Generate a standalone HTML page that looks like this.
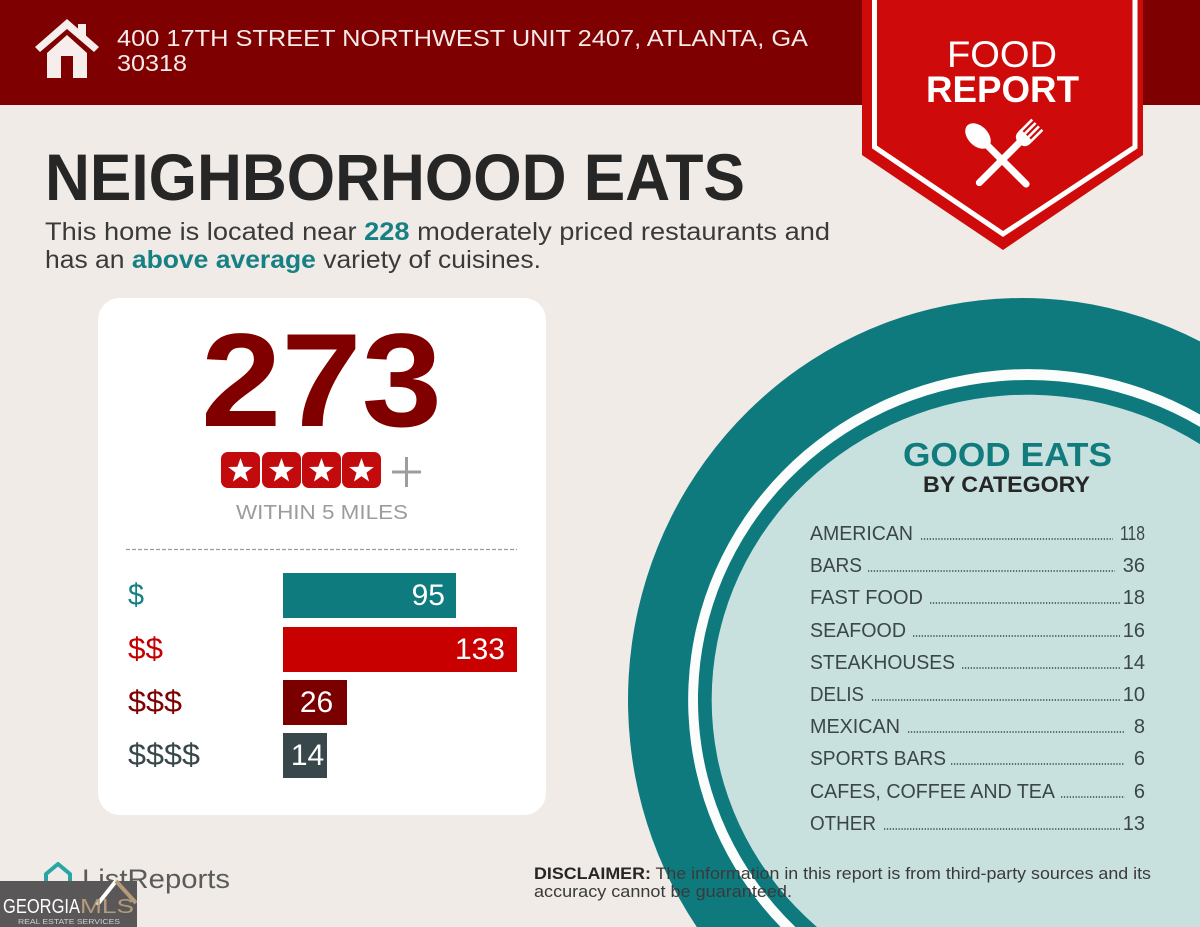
<!DOCTYPE html>
<html>
<head>
<meta charset="utf-8">
<style>
  html,body{margin:0;padding:0;background:#f0ebe6;width:1200px;height:927px;overflow:hidden;}
  svg{display:block;}
  text{font-family:"Liberation Sans", Arial, sans-serif;}
</style>
</head>
<body>
<svg width="1200" height="927" viewBox="0 0 1200 927" xmlns="http://www.w3.org/2000/svg">
  <defs>
    <polygon id="star" points="0,-13 3.1,-4.3 12.4,-4 5,1.6 7.6,10.5 0,5.3 -7.6,10.5 -5,1.6 -12.4,-4 -3.1,-4.3" fill="#ffffff"/>
  </defs>

  <!-- background -->
  <rect x="0" y="0" width="1200" height="927" fill="#f0ebe6"/>

  <!-- header -->
  <rect x="0" y="0" width="1200" height="105" fill="#7e0000"/>

  <!-- house icon -->
  <polygon points="35,47 67,19 99,47 94,52 67,29 40,52" fill="#f6eded"/>
  <rect x="78" y="24" width="8" height="13" fill="#f6eded"/>
  <polygon points="47,53 67,35 87,53 87,78 73,78 73,56 61,56 61,78 47,78" fill="#f6eded"/>

  <text x="117" y="46" font-size="23" fill="#f6eaea" textLength="691" lengthAdjust="spacingAndGlyphs">400 17TH STREET NORTHWEST UNIT 2407, ATLANTA, GA</text>
  <text x="117" y="71" font-size="23" fill="#f6eaea" textLength="70" lengthAdjust="spacingAndGlyphs">30318</text>

  <!-- badge -->
  <polygon points="862,0 1143,0 1143,155 1003,250 862,155" fill="#cf0a0a"/>
  <polyline points="874.5,0 874.5,147 1003,234 1135,147 1135,0" fill="none" stroke="#ffffff" stroke-width="5"/>
  <text x="947" y="67" font-size="37" fill="#ffffff" textLength="110" lengthAdjust="spacingAndGlyphs">FOOD</text>
  <text x="926" y="102" font-size="37" font-weight="bold" fill="#ffffff" textLength="153" lengthAdjust="spacingAndGlyphs">REPORT</text>
  <!-- spoon -->
  <g transform="translate(978,136) rotate(-45)" fill="#ffffff">
    <ellipse cx="0" cy="0" rx="10" ry="15"/>
    <line x1="0" y1="10" x2="0" y2="68" stroke="#ffffff" stroke-width="7" stroke-linecap="round"/>
  </g>
  <!-- fork -->
  <g transform="translate(1026,136) rotate(45)" fill="#ffffff">
    <rect x="-8.5" y="-16" width="2.6" height="16"/>
    <rect x="-3.7" y="-16" width="2.6" height="16"/>
    <rect x="1.1" y="-16" width="2.6" height="16"/>
    <rect x="5.9" y="-16" width="2.6" height="16"/>
    <path d="M-8.5,-1 L8.5,-1 L8.5,2 Q8.5,9 2,10 L-2,10 Q-8.5,9 -8.5,2 Z"/>
    <line x1="0" y1="8" x2="0" y2="66" stroke="#ffffff" stroke-width="7" stroke-linecap="round"/>
  </g>

  <!-- title -->
  <text x="45" y="200" font-size="66" font-weight="bold" fill="#262626" textLength="700" lengthAdjust="spacingAndGlyphs">NEIGHBORHOOD EATS</text>
  <text x="45" y="240" font-size="25" fill="#3a3a3a" textLength="785" lengthAdjust="spacingAndGlyphs">This home is located near <tspan font-weight="bold" fill="#168084">228</tspan> moderately priced restaurants and</text>
  <text x="45" y="268" font-size="25" fill="#3a3a3a" textLength="496" lengthAdjust="spacingAndGlyphs">has an <tspan font-weight="bold" fill="#168084">above average</tspan> variety of cuisines.</text>

  <!-- card -->
  <rect x="98" y="298" width="448" height="517" rx="22" ry="22" fill="#ffffff"/>
  <text x="201" y="426" font-size="133" font-weight="bold" fill="#800000" textLength="241" lengthAdjust="spacingAndGlyphs">273</text>

  <!-- stars -->
  <rect x="221" y="452" width="39" height="36" rx="7" fill="#c30b0e"/>
  <rect x="262" y="452" width="39" height="36" rx="7" fill="#c30b0e"/>
  <rect x="302" y="452" width="39" height="36" rx="7" fill="#c30b0e"/>
  <rect x="342" y="452" width="39" height="36" rx="7" fill="#c30b0e"/>
  <use href="#star" x="240.5" y="471"/>
  <use href="#star" x="281.5" y="471"/>
  <use href="#star" x="321.5" y="471"/>
  <use href="#star" x="361.5" y="471"/>
  <line x1="392" y1="472" x2="421" y2="472" stroke="#9d9d9d" stroke-width="3"/>
  <line x1="406.5" y1="457" x2="406.5" y2="487" stroke="#9d9d9d" stroke-width="3"/>

  <text x="236" y="519" font-size="20" fill="#9c9c9c" textLength="172" lengthAdjust="spacingAndGlyphs">WITHIN 5 MILES</text>
  <line x1="126" y1="549.5" x2="517" y2="549.5" stroke="#9a9a9a" stroke-width="1.2" stroke-dasharray="4 2"/>

  <!-- bars -->
  <text x="128" y="605" font-size="31" fill="#178084" textLength="16" lengthAdjust="spacingAndGlyphs">$</text>
  <text x="128" y="659" font-size="31" fill="#c40000" textLength="35" lengthAdjust="spacingAndGlyphs">$$</text>
  <text x="128" y="712" font-size="31" fill="#7e0000" textLength="54" lengthAdjust="spacingAndGlyphs">$$$</text>
  <text x="128" y="765" font-size="31" fill="#37474a" textLength="72" lengthAdjust="spacingAndGlyphs">$$$$</text>

  <rect x="283" y="573" width="173" height="45" fill="#0e7b7f"/>
  <rect x="283" y="627" width="234" height="45" fill="#c80000"/>
  <rect x="283" y="680" width="64" height="45" fill="#7a0000"/>
  <rect x="283" y="733" width="44" height="45" fill="#37474a"/>
  <text x="445" y="605" font-size="30" fill="#ffffff" text-anchor="end">95</text>
  <text x="505" y="659" font-size="30" fill="#ffffff" text-anchor="end">133</text>
  <text x="316.5" y="712" font-size="30" fill="#ffffff" text-anchor="middle">26</text>
  <text x="307.5" y="765" font-size="30" fill="#ffffff" text-anchor="middle">14</text>

  <!-- circle (paths clipped to frame) -->
  <path d="M696.8,927 A394,402 0 0 1 1200,341.4 L1200,927 Z" fill="#0e7a7e"/>
  <path d="M780.6,927 A340,331 0 0 1 1200,414.5 L1200,927 Z" fill="#fbfdfd"/>
  <path d="M795.4,927 A330,320 0 0 1 1200,426.9 L1200,927 Z" fill="#0e7a7e"/>
  <path d="M816.9,927 A316,305 0 0 1 1200,444.1 L1200,927 Z" fill="#c8e1df"/>

  <text x="903" y="466" font-size="33" font-weight="bold" fill="#127b7e" textLength="209" lengthAdjust="spacingAndGlyphs">GOOD EATS</text>
  <text x="923" y="492" font-size="22" font-weight="bold" fill="#262626" textLength="167" lengthAdjust="spacingAndGlyphs">BY CATEGORY</text>

  <g font-size="20" fill="#3b4646">
    <text x="810" y="540" textLength="103" lengthAdjust="spacingAndGlyphs">AMERICAN</text>
    <text x="1120" y="540" textLength="25" lengthAdjust="spacingAndGlyphs">118</text>
    <text x="810" y="572" textLength="52" lengthAdjust="spacingAndGlyphs">BARS</text>
    <text x="1145" y="572" text-anchor="end">36</text>
    <text x="810" y="604" textLength="113" lengthAdjust="spacingAndGlyphs">FAST FOOD</text>
    <text x="1145" y="604" text-anchor="end">18</text>
    <text x="810" y="637" textLength="96" lengthAdjust="spacingAndGlyphs">SEAFOOD</text>
    <text x="1145" y="637" text-anchor="end">16</text>
    <text x="810" y="669" textLength="145" lengthAdjust="spacingAndGlyphs">STEAKHOUSES</text>
    <text x="1145" y="669" text-anchor="end">14</text>
    <text x="810" y="701" textLength="54" lengthAdjust="spacingAndGlyphs">DELIS</text>
    <text x="1145" y="701" text-anchor="end">10</text>
    <text x="810" y="733" textLength="90" lengthAdjust="spacingAndGlyphs">MEXICAN</text>
    <text x="1145" y="733" text-anchor="end">8</text>
    <text x="810" y="765" textLength="136" lengthAdjust="spacingAndGlyphs">SPORTS BARS</text>
    <text x="1145" y="765" text-anchor="end">6</text>
    <text x="810" y="798" textLength="245" lengthAdjust="spacingAndGlyphs">CAFES, COFFEE AND TEA</text>
    <text x="1145" y="798" text-anchor="end">6</text>
    <text x="810" y="830" textLength="66" lengthAdjust="spacingAndGlyphs">OTHER</text>
    <text x="1145" y="830" text-anchor="end">13</text>
  </g>
  <g stroke="#3b4646" stroke-width="1.6" stroke-dasharray="1.3 1.6">
    <line x1="921" y1="539" x2="1113" y2="539"/>
    <line x1="868" y1="571" x2="1115" y2="571"/>
    <line x1="930" y1="603" x2="1120" y2="603"/>
    <line x1="913" y1="636" x2="1120" y2="636"/>
    <line x1="962" y1="668" x2="1121" y2="668"/>
    <line x1="872" y1="700" x2="1120" y2="700"/>
    <line x1="908" y1="732" x2="1125" y2="732"/>
    <line x1="951" y1="764" x2="1125" y2="764"/>
    <line x1="1061" y1="797" x2="1125" y2="797"/>
    <line x1="884" y1="829" x2="1120" y2="829"/>
  </g>

  <!-- disclaimer -->
  <text x="534" y="879" font-size="16.5" fill="#3a3a3a" textLength="617" lengthAdjust="spacingAndGlyphs"><tspan font-weight="bold" fill="#262626">DISCLAIMER:</tspan> The information in this report is from third-party sources and its</text>
  <text x="534" y="897" font-size="16.5" fill="#3a3a3a" textLength="258" lengthAdjust="spacingAndGlyphs">accuracy cannot be guaranteed.</text>

  <!-- ListReports logo -->
  <path d="M46,888 L46,874 L58,864 L70,874 L70,888" fill="none" stroke="#2aa5a7" stroke-width="4" stroke-linejoin="round"/>
  <text x="82" y="888" font-size="27" fill="#5b5b5b" textLength="148" lengthAdjust="spacingAndGlyphs">ListReports</text>

  <!-- GeorgiaMLS -->
  <rect x="0" y="881" width="137" height="46" fill="#5a5758"/>
  <polyline points="97,905 116,881" fill="none" stroke="#ffffff" stroke-width="4"/>
  <polyline points="116,881 136,903" fill="none" stroke="#b39b7b" stroke-width="4"/>
  <text x="3" y="913" font-size="20" fill="#ffffff" textLength="77" lengthAdjust="spacingAndGlyphs">GEORGIA</text>
  <text x="80" y="913" font-size="20" fill="#b39b7b" textLength="54" lengthAdjust="spacingAndGlyphs">MLS</text>
  <text x="18" y="924" font-size="7" fill="#d0d0d0" textLength="102" lengthAdjust="spacingAndGlyphs">REAL ESTATE SERVICES</text>
</svg>
</body>
</html>
